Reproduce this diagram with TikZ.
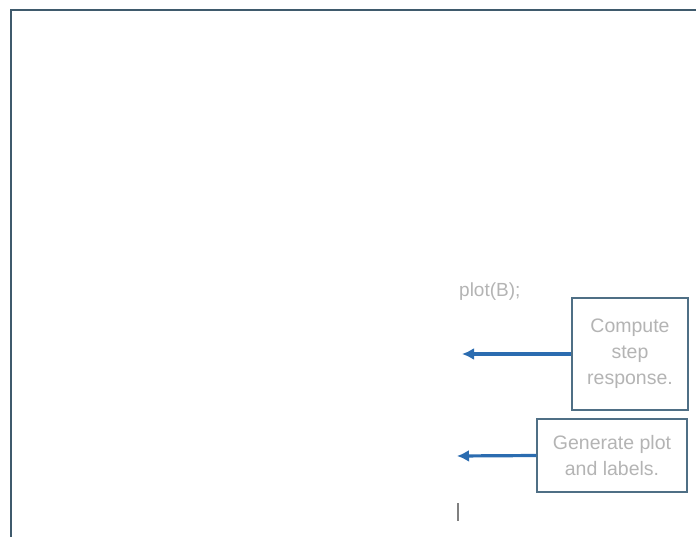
\documentclass[tikz,border=0pt]{standalone}
\usepackage{fontspec}
\setmainfont{Liberation Sans}
\usetikzlibrary{arrows.meta}
\definecolor{framec}{HTML}{3F5A6C}
\definecolor{boxc}{HTML}{4F6F85}
\definecolor{arrc}{HTML}{2B6CB0}
\definecolor{txtc}{HTML}{B4B4B4}
\tikzset{
  stepbox/.style={draw=boxc, line width=1.3pt, fill=white, align=center, text=txtc, font=\fontsize{19.5}{26}\selectfont, inner sep=0pt},
  arr/.style={draw=arrc, line width=3.2pt, -{Latex[length=12pt,width=12pt]}},
}
\begin{document}
\begin{tikzpicture}[x=1pt,y=-1pt]
\useasboundingbox (0,0) rectangle (696,537);
\fill[white] (0,0) rectangle (696,537);
% frame
\draw[framec, line width=1.5pt] (11,537) -- (11,10) -- (696,10);
% code text
\node[text=txtc, font=\fontsize{19}{22}\selectfont, anchor=west, inner sep=0pt] (code) at (459,292) {plot(B);};
% boxes
\node[stepbox, minimum width=116pt, minimum height=112pt] (b1) at (630,354) {Compute\\step\\response.};
\node[stepbox, minimum width=150pt, minimum height=73pt] (b2) at (612,455.5) {Generate plot\\and labels.};
% arrow ends
\coordinate (e1) at (462,354);
\coordinate (e2) at (457,456);
\draw[arr] (b1.west) -- (e1);
\draw[arr] (b2.west) -- (e2);
% cursor mark
\coordinate (m1) at (458,503);
\coordinate (m2) at (458,521);
\draw[gray, line width=1.5pt] (m1) -- (m2);
\end{tikzpicture}
\end{document}
